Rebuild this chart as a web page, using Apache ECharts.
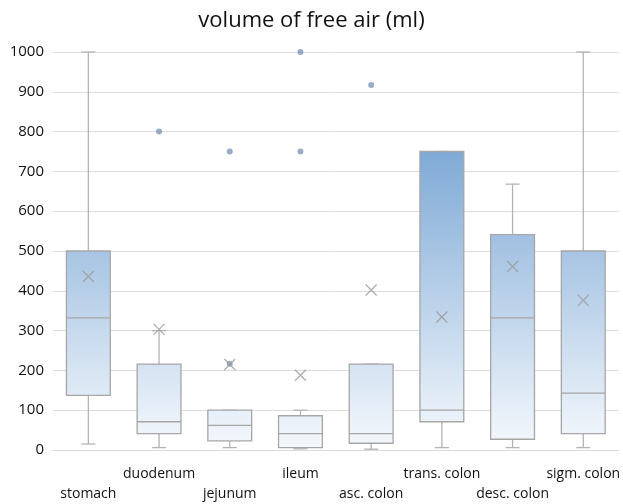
<!DOCTYPE html>
<html><head><meta charset="utf-8">
<script src="https://cdn.jsdelivr.net/npm/echarts@6/dist/echarts.min.js"></script>
<style>html,body{margin:0;padding:0;background:#fff}#c{width:623px;height:504px}</style>
</head><body><div id="c"></div>
<script>
var categories = ['stomach','duodenum','jejunum','ileum','asc. colon','trans. colon','desc. colon','sigm. colon'];
// [min, Q1, median, Q3, max]
var boxStats = [
  [15, 137, 332, 500, 1000],
  [6, 41, 71, 216, 300],
  [6, 23, 62, 100, 100],
  [3, 6, 41, 86, 100],
  [2, 17, 41, 216, 216],
  [6, 71, 100, 750, 750],
  [6, 27, 332, 541, 668],
  [6, 41, 143, 500, 1000]
];
var means = [436, 303, 215, 188, 402, 334, 461, 376];
var outliers = [[1, 800], [2, 750], [2, 217], [3, 1000], [3, 750], [4, 917]];
var yTicks = [0,100,200,300,400,500,600,700,800,900,1000];

var chart = echarts.init(document.getElementById('c'));
var boxData = boxStats.map(function(s, i){ return [i].concat(s); });
var meanData = means.map(function(m, i){ return [i, m]; });

chart.setOption({
  animation: false,
  title: { text: 'volume of free air (ml)', left: 'center', top: 5,
    textStyle: { fontFamily: 'Open Sans', fontSize: 22, fontWeight: 'normal', color: '#111' } },
  grid: { left: 53, right: 2, top: 52, bottom: 52 },
  xAxis: { type: 'category', data: categories,
    axisLine: { show: true, lineStyle: { color: '#d9d9d9' } },
    axisTick: { show: false },
    axisLabel: { interval: 0, margin: 14, lineHeight: 20, fontSize: 14, fontFamily: 'Open Sans', color: '#111',
      formatter: function(v, i){ return i % 2 === 0 ? '\n' + v : v; } } },
  yAxis: { type: 'value', min: 0, max: 1000, interval: 100,
    axisLine: { show: false }, axisTick: { show: false },
    splitLine: { lineStyle: { color: '#dcdcdc' } },
    axisLabel: { fontSize: 15, fontFamily: 'Open Sans', color: '#111', margin: 9,
      formatter: function(v){ return yTicks.indexOf(v) >= 0 ? String(v) : ''; } } },
  series: [
    { type: 'custom', data: boxData, z: 2,
      encode: { x: 0, y: [1,2,3,4,5] },
      renderItem: function(params, api){
        var i = api.value(0);
        var pMin = api.coord([i, api.value(1)]);
        var pQ1 = api.coord([i, api.value(2)]);
        var pMed = api.coord([i, api.value(3)]);
        var pQ3 = api.coord([i, api.value(4)]);
        var pMax = api.coord([i, api.value(5)]);
        var top = api.coord([0, 1000])[1], bot = api.coord([0, 0])[1];
        var bw = api.size([1, 0])[0] * 0.62;
        var cap = 14;
        var x = pQ1[0];
        var grad = { type: 'linear', x: 0, y: top, x2: 0, y2: bot, global: true,
          colorStops: [ { offset: 0, color: '#5f93c9' }, { offset: 0.25, color: '#7faad6' }, { offset: 1, color: '#f6f9fd' } ] };
        var wStyle = { stroke: '#b3b3b3', lineWidth: 1.3, fill: null };
        var bStyle = { stroke: '#a6a6a6', lineWidth: 1.3 };
        return { type: 'group', children: [
          { type: 'line', shape: { x1: x, y1: pQ3[1], x2: x, y2: pMax[1] }, style: wStyle },
          { type: 'line', shape: { x1: x, y1: pQ1[1], x2: x, y2: pMin[1] }, style: wStyle },
          { type: 'line', shape: { x1: x - cap/2, y1: pMax[1], x2: x + cap/2, y2: pMax[1] }, style: wStyle },
          { type: 'line', shape: { x1: x - cap/2, y1: pMin[1], x2: x + cap/2, y2: pMin[1] }, style: wStyle },
          { type: 'rect', shape: { x: x - bw/2, y: pQ3[1], width: bw, height: pQ1[1] - pQ3[1] },
            style: { fill: grad, stroke: '#a6a6a6', lineWidth: 1.3 } },
          { type: 'line', shape: { x1: x - bw/2, y1: pMed[1], x2: x + bw/2, y2: pMed[1] }, style: bStyle }
        ] };
      } },
    { type: 'scatter', data: outliers, z: 3, symbol: 'circle', symbolSize: 6,
      itemStyle: { color: '#7e99b7' } },
    { type: 'scatter', data: meanData, z: 4, symbol: 'path://M0,0L10,10M10,0L0,10', symbolSize: 11,
      itemStyle: { color: 'none', borderColor: '#9a9a9a', borderWidth: 1.3 } }
  ]
});
</script></body></html>
